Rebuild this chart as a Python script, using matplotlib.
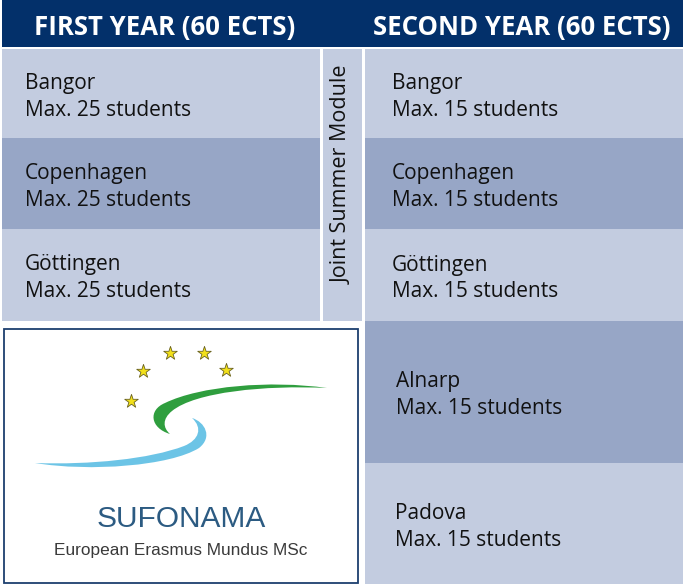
import matplotlib
matplotlib.use("Agg")
import matplotlib.pyplot as plt
from matplotlib.patches import Rectangle, PathPatch
from matplotlib.path import Path

HEADERS = ["FIRST YEAR (60 ECTS)", "SECOND YEAR (60 ECTS)"]
FIRST_SITES = ["Bangor", "Copenhagen", "Göttingen"]
FIRST_MAX = [25, 25, 25]
SECOND_SITES = ["Bangor", "Copenhagen", "Göttingen", "Alnarp", "Padova"]
SECOND_MAX = [15, 15, 15, 15, 15]
MIDDLE_LABEL = "Joint Summer Module"
LOGO_TITLE = "SUFONAMA"
LOGO_SUB = "European Erasmus Mundus MSc"

NAVY = "#03306a"
LIGHT = "#c3cce0"
DARK = "#97a6c6"
BODY_FONT = ["Open Sans", "DejaVu Sans"]
HEAD_FONT = ["Open Sans", "DejaVu Sans"]
BODY_SIZE = 15

# row boundaries in pixels (top, bottom)
FIRST_ROWS = [(49, 138), (138, 229), (229, 320.5)]
SECOND_ROWS = [(49, 138), (138, 229), (229, 321), (321, 463), (463, 584)]
SECOND_TEXT_X = [392, 392, 392, 396, 395]

fig = plt.figure(figsize=(6.83, 5.84), dpi=100)
ax = fig.add_axes([0, 0, 1, 1])
ax.set_xlim(0, 683)
ax.set_ylim(584, 0)
ax.axis("off")

# header band
ax.add_patch(Rectangle((2, 0), 681, 46.5, color=NAVY, lw=0))
ax.text(165, 27, HEADERS[0], color="white", fontsize=18.5, fontweight="bold",
        family=HEAD_FONT, ha="center", va="center")
ax.text(522, 27, HEADERS[1], color="white", fontsize=18.5, fontweight="bold",
        family=HEAD_FONT, ha="center", va="center")


def cell_text(x, top, bot, site, cap):
    mid = (top + bot) / 2 + 3
    ax.text(x, mid - 13, site, fontsize=BODY_SIZE, family=BODY_FONT,
            color="#111111", va="center")
    ax.text(x, mid + 13.5, f"Max. {cap} students", fontsize=BODY_SIZE,
            family=BODY_FONT, color="#111111", va="center")


# first year column
for i, (site, cap) in enumerate(zip(FIRST_SITES, FIRST_MAX)):
    top, bot = FIRST_ROWS[i]
    ax.add_patch(Rectangle((2, top), 318, bot - top, color=LIGHT if i % 2 == 0 else DARK, lw=0))
    cell_text(25, top, bot, site, cap)

# joint summer module column
ax.add_patch(Rectangle((323, 49), 39, 271.5, color=LIGHT, lw=0))
ax.text(342.5, 175, MIDDLE_LABEL, rotation=90, fontsize=BODY_SIZE + 0.5, family=BODY_FONT,
        color="#111111", ha="center", va="center")

# second year column
for i, (site, cap) in enumerate(zip(SECOND_SITES, SECOND_MAX)):
    top, bot = SECOND_ROWS[i]
    ax.add_patch(Rectangle((365, top), 318, bot - top, color=LIGHT if i % 2 == 0 else DARK, lw=0))
    cell_text(SECOND_TEXT_X[i], top, bot, site, cap)

# logo box
ax.add_patch(Rectangle((3.5, 329), 354, 253.5, facecolor="white", edgecolor="#1d3f6e", lw=1.3))

# swooshes as crescents
M, C, Z = Path.MOVETO, Path.CURVE4, Path.CLOSEPOLY
green = Path([(170, 434),
              (150, 428), (148, 410), (165, 403),
              (200, 386), (270, 380), (327, 388),
              (265, 385), (195, 392), (172, 411),
              (162, 419), (163, 428), (170, 434),
              (170, 434)],
             [M, C, C, C, C, C, C, C, C, C, C, C, C, Z])
ax.add_patch(PathPatch(green, facecolor="#2f9e3e", edgecolor="none"))
blue = Path([(35, 463),
             (90, 472), (170, 466), (199, 448),
             (213, 437), (205, 422), (192, 418),
             (203, 428), (199, 440), (184, 446),
             (150, 459), (90, 465), (35, 463),
             (35, 463)],
            [M, C, C, C, C, C, C, C, C, C, C, C, C, Z])
ax.add_patch(PathPatch(blue, facecolor="#6cc4e6", edgecolor="none"))

STAR_X = [131, 143, 170, 204, 226]
STAR_Y = [401, 371, 353, 353, 370]
ax.scatter(STAR_X, STAR_Y, marker="*", s=105, color="#f2e01a", edgecolors="#6b6320",
           linewidths=0.6, zorder=5)

ax.text(181, 519, LOGO_TITLE, fontsize=21.5, family=["Liberation Sans", "DejaVu Sans"],
        color="#2c5b82", ha="center", va="center")
ax.text(181, 551, LOGO_SUB, fontsize=12.4, family=["Liberation Sans", "DejaVu Sans"],
        color="#3a3a3a", ha="center", va="center")

fig.savefig("out.png", dpi=100)
